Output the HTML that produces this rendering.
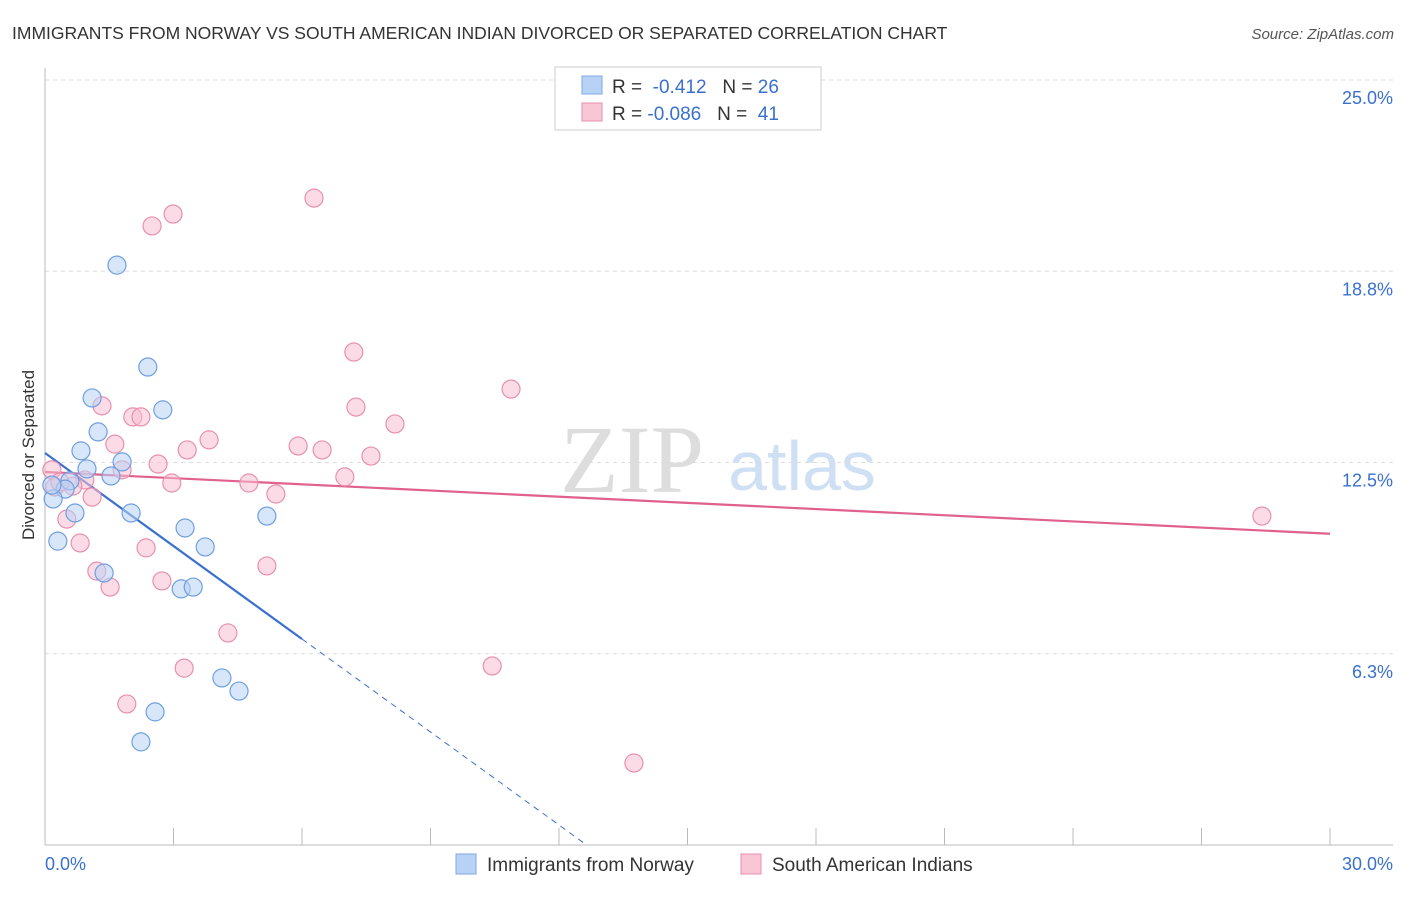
<!DOCTYPE html>
<html><head><meta charset="utf-8"><style>
body{margin:0;background:#fff;font-family:"Liberation Sans",sans-serif}
</style></head><body>
<svg id="chart" width="1406" height="892" xmlns="http://www.w3.org/2000/svg" style="font-family:'Liberation Sans',sans-serif">
<text x="12" y="39" font-size="17.5" fill="#333">IMMIGRANTS FROM NORWAY VS SOUTH AMERICAN INDIAN DIVORCED OR SEPARATED CORRELATION CHART</text>
<text x="1394" y="39" font-size="15" fill="#555" text-anchor="end" font-style="italic">Source: ZipAtlas.com</text>
<g>
<text x="632" y="492" font-size="96" fill="#ddd" text-anchor="middle" font-family="'Liberation Serif',serif">ZIP</text>
<text x="802" y="490" font-size="70" fill="#cfe0f5" text-anchor="middle">atlas</text>
</g>
<g id="grid"></g><g id="axes"></g><g id="trend"></g><g id="pts"></g>
<text transform="translate(34,455) rotate(-90)" font-size="17" fill="#333" text-anchor="middle">Divorced or Separated</text>
<g>
<rect x="555" y="67" width="266" height="63" fill="#fff" stroke="#ccc"/>
<rect x="582" y="76" width="20" height="18" fill="#b8d2f5" stroke="#7fa9e0"/>
<rect x="582" y="103" width="20" height="18" fill="#f9c6d5" stroke="#e890ad"/>
<text x="612" y="93" font-size="19" fill="#333">R = <tspan fill="#3a70d0">&#160;-0.412</tspan>&#160;&#160;&#160;N = <tspan fill="#3a70d0">26</tspan></text>
<text x="612" y="120" font-size="19" fill="#333">R = <tspan fill="#3a70d0">-0.086</tspan>&#160;&#160;&#160;N = <tspan fill="#3a70d0">&#160;41</tspan></text>
</g>
<g>
<rect x="456" y="854" width="20" height="20" fill="#b8d2f5" stroke="#7fa9e0"/>
<text x="487" y="871" font-size="19" fill="#333">Immigrants from Norway</text>
<rect x="741" y="854" width="20" height="20" fill="#f9c6d5" stroke="#e890ad"/>
<text x="772" y="871" font-size="19" fill="#333">South American Indians</text>
</g>
</svg>
<script>
const yTicks=[6.25,12.5,18.75,25];
const yTickLabels=["6.3%","12.5%","18.8%","25.0%"];
const xTickVals=[0,3,6,9,12,15,18,21,24,27,30];
const norwayX=[1.68,2.40,1.10,2.75,1.24,0.84,1.80,0.98,1.54,0.58,0.47,0.19,0.70,2.01,5.18,3.27,0.30,3.74,1.38,3.18,3.46,4.13,4.53,2.57,2.24,0.16];
const norwayY=[18.95,15.62,14.61,14.22,13.50,12.88,12.52,12.29,12.06,11.90,11.63,11.31,10.85,10.85,10.75,10.36,9.93,9.74,8.89,8.37,8.43,5.46,5.03,4.35,3.37,11.76];
const saiX=[6.28,2.99,2.50,7.21,10.88,1.33,7.26,2.05,2.24,8.17,3.83,1.63,5.91,6.47,3.32,7.61,2.64,1.80,7.00,2.96,4.76,0.93,0.65,0.23,5.39,1.10,0.51,0.82,2.36,5.18,1.21,1.52,2.73,4.27,10.44,3.25,1.91,13.75,28.41,0.16,0.35];
const saiY=[21.14,20.62,20.23,16.11,14.90,14.35,14.31,13.99,13.99,13.76,13.24,13.10,13.04,12.91,12.91,12.71,12.45,12.26,12.03,11.83,11.83,11.93,11.73,11.70,11.47,11.37,10.65,9.87,9.71,9.12,8.95,8.43,8.63,6.93,5.85,5.78,4.61,2.68,10.75,12.26,11.86];
const norwayTrend=[12.81,-1.013]; // intercept, slope
const saiTrend=[12.19,-0.0673];
const NS="http://www.w3.org/2000/svg";
const X=v=>45+v/30*1285, Y=v=>845-v/25*765;
function mk(tag,attrs,parent){const e=document.createElementNS(NS,tag);for(const k in attrs)e.setAttribute(k,attrs[k]);document.getElementById(parent).appendChild(e);return e;}
yTicks.forEach((t,i)=>{
 const l=mk('line',{x1:45,x2:1393,y1:Y(t),y2:Y(t),stroke:'#ddd','stroke-dasharray':'4,4'},'grid');
 
 
 const tx=mk('text',{x:1393,y:Y(t)+24,'font-size':18,fill:'#3a70d0','text-anchor':'end'},'grid');
 tx.textContent=yTickLabels[i];
 
 
});
let a=mk('line',{x1:45,x2:45,y1:68,y2:845,stroke:'#bbb'},'axes');


a=mk('line',{x1:45,x2:1393,y1:845,y2:845,stroke:'#bbb'},'axes');


xTickVals.forEach(v=>{const t=mk('line',{x1:X(v),x2:X(v),y1:828,y2:845,stroke:'#bbb'},'axes');
 
 });
let t=mk('text',{x:45,y:870,'font-size':18,fill:'#3a70d0'},'axes');t.textContent='0.0%';


t=mk('text',{x:1393,y:870,'font-size':18,fill:'#3a70d0','text-anchor':'end'},'axes');t.textContent='30.0%';


function dot(x,y,f,s,n){const c=mk('circle',{cx:X(x),cy:Y(y),r:9,fill:f,'fill-opacity':0.55,stroke:s,'stroke-width':1.2},'pts');
 
 }
saiX.forEach((x,i)=>dot(x,saiY[i],'#f7bfd1','#e890ad','sai-point'));
norwayX.forEach((x,i)=>dot(x,norwayY[i],'#b8d2f5','#6f9fe0','norway-point'));
const nb=norwayTrend;
let l=mk('line',{x1:X(0),y1:Y(nb[0]),x2:X(6),y2:Y(nb[0]+nb[1]*6),stroke:'#3a70d0','stroke-width':2.2},'trend');


const xz=-nb[0]/nb[1];
l=mk('line',{x1:X(6),y1:Y(nb[0]+nb[1]*6),x2:X(xz),y2:Y(0),stroke:'#3a70d0','stroke-width':1,'stroke-dasharray':'6,5'},'trend');


l=mk('line',{x1:X(0),y1:Y(saiTrend[0]),x2:X(30),y2:Y(saiTrend[0]+saiTrend[1]*30),stroke:'#e0608e','stroke-width':2.2},'trend');


</script>
</body></html>
